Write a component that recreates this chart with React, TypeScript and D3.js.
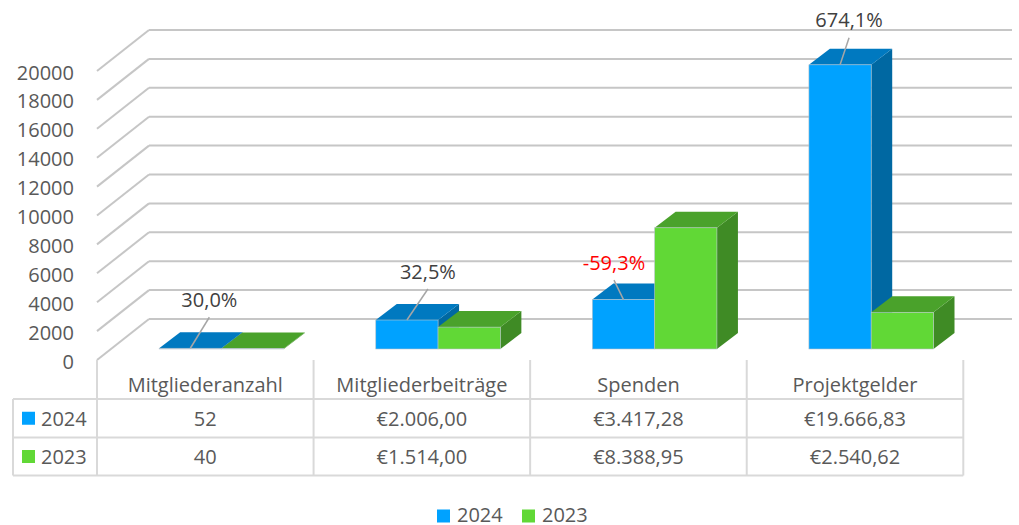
import React from "react";
import * as d3 from "d3";

const categories = ["Mitgliederanzahl", "Mitgliederbeiträge", "Spenden", "Projektgelder"];
const seriesNames = ["2024", "2023"];
const values2024 = [52, 2006.0, 3417.28, 19666.83];
const values2023 = [40, 1514.0, 8388.95, 2540.62];
const tableLabels2024 = ["52", "€2.006,00", "€3.417,28", "€19.666,83"];
const tableLabels2023 = ["40", "€1.514,00", "€8.388,95", "€2.540,62"];
const yTicks = [0, 2000, 4000, 6000, 8000, 10000, 12000, 14000, 16000, 18000, 20000];

// label offsets relative to the top-front centre of the 2024 bar (layout, not data)
const labelOffsets: [number, number][] = [
  [19, -49],
  [21, -49],
  [-9.5, -37.5],
  [9, -45],
];

const W = 1019;
const H = 525;
const FONT = "'Open Sans', Lato, sans-serif";
const FS = 20;
const TEXT = "#595959";

const FRONT_BLUE = "#00A2FF";
const TOP_BLUE = "#0079C0";
const SIDE_BLUE = "#0068A2";
const FRONT_GREEN = "#61D836";
const TOP_GREEN = "#4AA22B";
const SIDE_GREEN = "#3F8B25";

export default function App() {
  const X0 = 97;
  const X1 = 963.3;
  const depthDX = 52;
  const depthDY = -41;
  const barShiftX = 16.2;
  const barShiftY = -11;
  const barDX = 21;
  const barDY = -16;
  const wallRight = 1012;

  const x = d3.scaleBand<string>().domain(categories).range([X0, X1]);
  const y = d3.scaleLinear().domain([0, 20000]).range([360, 71]);
  const barW = 62.3;

  const series = [
    { name: seriesNames[0], values: values2024, front: FRONT_BLUE, top: TOP_BLUE, side: SIDE_BLUE },
    { name: seriesNames[1], values: values2023, front: FRONT_GREEN, top: TOP_GREEN, side: SIDE_GREEN },
  ];

  const pct = values2024.map((v, i) => v / values2023[i] - 1);
  const fmtPct = (p: number) => (p * 100).toFixed(1).replace(".", ",") + "%";

  const bars: React.ReactNode[] = [];
  categories.forEach((c, ci) => {
    const bx = (x(c) as number) + x.bandwidth() / 2 - barW + barShiftX;
    series.forEach((s, si) => {
      const left = bx + si * barW;
      const right = left + barW;
      const base = y(0) + barShiftY;
      const top = y(s.values[ci]) + barShiftY;
      const sidePts = [
        [right, top],
        [right + barDX, top + barDY],
        [right + barDX, base + barDY],
        [right, base],
      ];
      const topPts = [
        [left, top],
        [left + barDX, top + barDY],
        [right + barDX, top + barDY],
        [right, top],
      ];
      const p = (pts: number[][]) => pts.map((q) => q.join(",")).join(" ");
      bars.push(
        <g key={`b-${ci}-${si}`}>
          <polygon points={p(sidePts)} fill={s.side} />
          <polygon points={p(topPts)} fill={s.top} />
          <rect x={left} y={top} width={barW} height={Math.max(0, base - top)} fill={s.front} stroke="#B8C4CC" strokeWidth={0.6} />
        </g>
      );
    });
  });

  const labels = categories.map((c, ci) => {
    const bx = (x(c) as number) + x.bandwidth() / 2 - barW + barShiftX;
    const cx = bx + barW / 2;
    const cy = y(values2024[ci]) + barShiftY;
    const lx = cx + labelOffsets[ci][0];
    const ly = cy + labelOffsets[ci][1];
    const neg = pct[ci] < 0;
    return (
      <g key={`l-${ci}`}>
        <line x1={lx} y1={ly + 18} x2={cx} y2={cy} stroke="#A6A6A6" strokeWidth={1.5} />
        <text x={lx} y={ly} textAnchor="middle" dominantBaseline="central" fontSize={FS} fontFamily={FONT} fill={neg ? "#FF0000" : "#404040"}>
          {fmtPct(pct[ci])}
        </text>
      </g>
    );
  });

  const rowTops = [360, 399, 437.5, 475.5];
  const colEdges = [X0, ...categories.map((c) => (x(c) as number) + x.bandwidth())];
  const tableLeft = 13;
  const gridColor = "#D9D9D9";

  return (
    <svg width={W} height={H} style={{ position: "absolute", left: 0, top: 0, background: "#fff" }}>
      {/* gridlines */}
      {yTicks.map((t) => {
        const yy = y(t);
        return (
          <g key={`g-${t}`}>
            <line x1={X0} y1={yy} x2={X0 + depthDX} y2={yy + depthDY} stroke="#C6C6C6" strokeWidth={2} />
            <line x1={X0 + depthDX} y1={yy + depthDY} x2={wallRight} y2={yy + depthDY} stroke="#C6C6C6" strokeWidth={2} />
          </g>
        );
      })}
      {yTicks.map((t) => (
        <text key={`t-${t}`} x={74} y={y(t) + 1} textAnchor="end" dominantBaseline="central" fontSize={FS} fontFamily={FONT} fill={TEXT}>
          {t}
        </text>
      ))}
      {bars}
      {labels}
      {/* data table */}
      <g>
        {colEdges.map((cx, i) => (
          <line key={`v-${i}`} x1={cx} y1={rowTops[0]} x2={cx} y2={rowTops[3]} stroke={gridColor} strokeWidth={2} />
        ))}
        <line x1={tableLeft} y1={rowTops[1]} x2={tableLeft} y2={rowTops[3]} stroke={gridColor} strokeWidth={2} />
        {[1, 2, 3].map((r) => (
          <line key={`h-${r}`} x1={tableLeft} y1={rowTops[r]} x2={colEdges[4]} y2={rowTops[r]} stroke={gridColor} strokeWidth={2} />
        ))}
        {categories.map((c) => (
          <text key={`hc-${c}`} x={(x(c) as number) + x.bandwidth() / 2} y={384} textAnchor="middle" dominantBaseline="central" fontSize={FS} fontFamily={FONT} fill={TEXT}>
            {c}
          </text>
        ))}
        {series.map((s, si) => {
          const rowY = (rowTops[si + 1] + rowTops[si + 2]) / 2;
          const labelsRow = si === 0 ? tableLabels2024 : tableLabels2023;
          return (
            <g key={`row-${si}`}>
              <rect x={22} y={rowY - 6.5} width={13} height={13} fill={s.front} />
              <text x={41} y={rowY} dominantBaseline="central" fontSize={FS} fontFamily={FONT} fill={TEXT}>
                {s.name}
              </text>
              {categories.map((c, ci) => (
                <text key={`cell-${si}-${ci}`} x={(x(c) as number) + x.bandwidth() / 2} y={rowY} textAnchor="middle" dominantBaseline="central" fontSize={FS} fontFamily={FONT} fill={TEXT}>
                  {labelsRow[ci]}
                </text>
              ))}
            </g>
          );
        })}
      </g>
      {/* legend */}
      <g>
        {series.map((s, si) => {
          const lx = 437 + si * 85;
          return (
            <g key={`leg-${si}`}>
              <rect x={lx} y={509.5} width={13} height={13} fill={s.front} />
              <text x={lx + 20} y={514} dominantBaseline="central" fontSize={FS} fontFamily={FONT} fill={TEXT}>
                {s.name}
              </text>
            </g>
          );
        })}
      </g>
    </svg>
  );
}
